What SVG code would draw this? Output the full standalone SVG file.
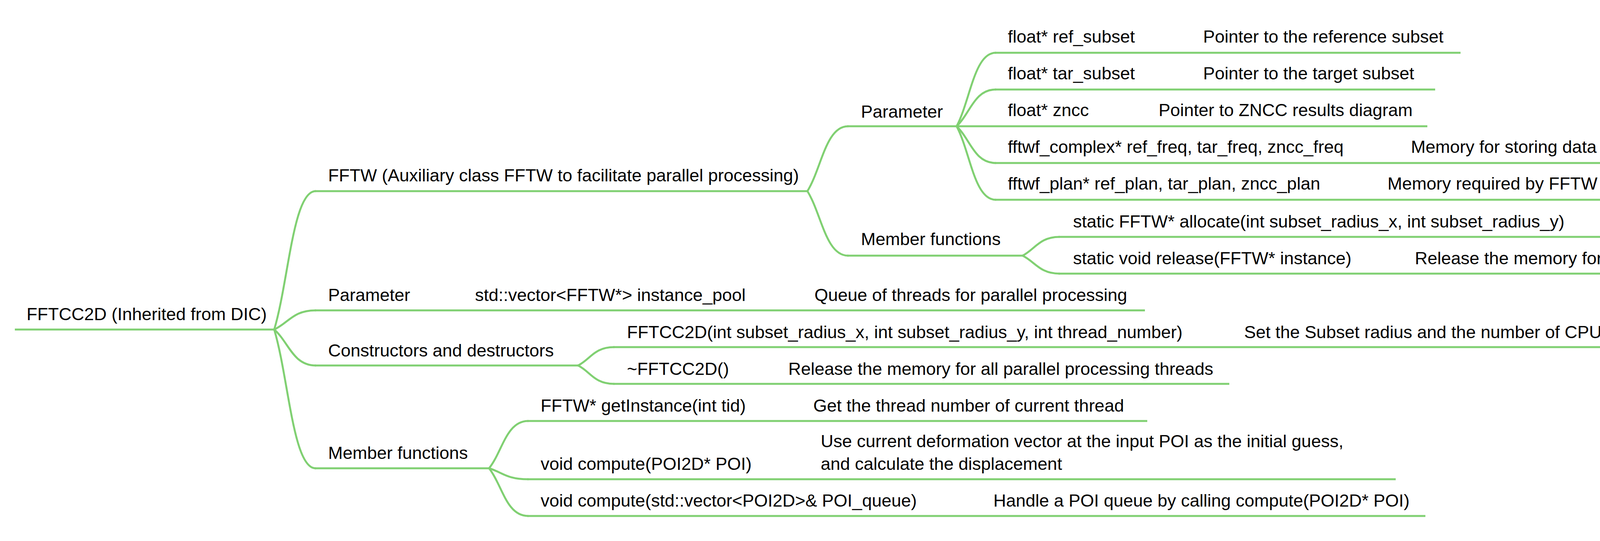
<svg xmlns="http://www.w3.org/2000/svg" width="4996" height="1384" viewBox="0 0 4996 1384">
<style>
text{font-family:"Liberation Sans",Arial,sans-serif;font-size:45px;fill:#000}
.u{stroke:#80D072;stroke-width:5;fill:none;stroke-linecap:butt}
.c{stroke:#80D072;stroke-width:5;fill:none;stroke-linecap:round}
</style>
<rect width="4996" height="1384" fill="#fff"/>
<g id="connectors">
<path class="c" d="M702 843 C739 719 750 489 808 489"/>
<path class="c" d="M702 843 C739 826 750 794 808 794"/>
<path class="c" d="M702 843 C739 875 750 935 808 935"/>
<path class="c" d="M702 843 C739 967 750 1198 808 1198"/>
<path class="c" d="M2067 489 C2103 431 2114 323 2171 323"/>
<path class="c" d="M2067 489 C2103 547 2114 654 2171 654"/>
<path class="c" d="M2449 323 C2484 257 2494 135 2549 135"/>
<path class="c" d="M2449 323 C2484 290 2494 229 2549 229"/>
<path class="c" d="M2449 323 C2484 356 2494 417 2549 417"/>
<path class="c" d="M2449 323 C2484 389 2494 511 2549 511"/>
<path class="c" d="M2618 654 C2650 637 2662 606 2712 606"/>
<path class="c" d="M2618 654 C2650 670 2662 700 2712 700"/>
<path class="c" d="M1480 935 C1512 919 1521 888 1572 888"/>
<path class="c" d="M1480 935 C1512 951 1521 982 1572 982"/>
<path class="c" d="M1252 1198 C1286 1156 1296 1077 1352 1077"/>
<path class="c" d="M1252 1198 C1286 1208 1296 1226 1352 1226"/>
<path class="c" d="M1252 1198 C1286 1241 1296 1320 1352 1320"/>
</g>
<g id="root"><line class="u" x1="38" y1="843" x2="704" y2="843"/><text x="68" y="819">FFTCC2D (Inherited from DIC)</text></g>
<g id="fftw"><line class="u" x1="806" y1="489" x2="2069" y2="489"/><text x="840" y="464">FFTW (Auxiliary class FFTW to facilitate parallel processing)</text></g>
<g id="fftw-param"><line class="u" x1="2169" y1="323" x2="2451" y2="323"/><text x="2204" y="301">Parameter</text></g>
<g id="ref-subset"><line class="u" x1="2547" y1="135" x2="3045" y2="135"/><text x="2580" y="109">float* ref_subset</text></g>
<g id="ref-subset-desc"><line class="u" x1="3045" y1="135" x2="3739" y2="135"/><text x="3080" y="109">Pointer to the reference subset</text></g>
<g id="tar-subset"><line class="u" x1="2547" y1="229" x2="3045" y2="229"/><text x="2580" y="203">float* tar_subset</text></g>
<g id="tar-subset-desc"><line class="u" x1="3045" y1="229" x2="3674" y2="229"/><text x="3080" y="203">Pointer to the target subset</text></g>
<g id="zncc"><line class="u" x1="2449" y1="323" x2="2930" y2="323"/><text x="2580" y="297">float* zncc</text></g>
<g id="zncc-desc"><line class="u" x1="2930" y1="323" x2="3654" y2="323"/><text x="2966" y="297">Pointer to ZNCC results diagram</text></g>
<g id="freq"><line class="u" x1="2547" y1="417" x2="3577" y2="417"/><text x="2580" y="391">fftwf_complex* ref_freq, tar_freq, zncc_freq</text></g>
<g id="freq-desc"><line class="u" x1="3577" y1="417" x2="4962" y2="417"/><text x="3612" y="391">Memory for storing data after transforming to frequency domain</text></g>
<g id="plan"><line class="u" x1="2547" y1="511" x2="3517" y2="511"/><text x="2580" y="485">fftwf_plan* ref_plan, tar_plan, zncc_plan</text></g>
<g id="plan-desc"><line class="u" x1="3517" y1="511" x2="4695" y2="511"/><text x="3552" y="485">Memory required by FFTW library for Fourier transform</text></g>
<g id="fftw-member"><line class="u" x1="2169" y1="654" x2="2620" y2="654"/><text x="2204" y="627">Member functions</text></g>
<g id="allocate"><line class="u" x1="2710" y1="606" x2="4129" y2="606"/><text x="2747" y="582">static FFTW* allocate(int subset_radius_x, int subset_radius_y)</text></g>
<g id="allocate-desc"><line class="u" x1="4129" y1="606" x2="4915" y2="606"/><text x="4164" y="582">Allocate memory for FFTW instance</text></g>
<g id="release"><line class="u" x1="2710" y1="700" x2="3587" y2="700"/><text x="2747" y="676">static void release(FFTW* instance)</text></g>
<g id="release-desc"><line class="u" x1="3587" y1="700" x2="4521" y2="700"/><text x="3622" y="676">Release the memory for the FFTW instance</text></g>
<g id="param"><line class="u" x1="806" y1="794" x2="1180" y2="794"/><text x="840" y="770">Parameter</text></g>
<g id="pool"><line class="u" x1="1180" y1="794" x2="2050" y2="794"/><text x="1216" y="770">std::vector&lt;FFTW*&gt; instance_pool</text></g>
<g id="pool-desc"><line class="u" x1="2050" y1="794" x2="2931" y2="794"/><text x="2085" y="770">Queue of threads for parallel processing</text></g>
<g id="ctors"><line class="u" x1="806" y1="935" x2="1482" y2="935"/><text x="840" y="912">Constructors and destructors</text></g>
<g id="ctor"><line class="u" x1="1570" y1="888" x2="3150" y2="888"/><text x="1605" y="865">FFTCC2D(int subset_radius_x, int subset_radius_y, int thread_number)</text></g>
<g id="ctor-desc"><line class="u" x1="3150" y1="888" x2="4308" y2="888"/><text x="3185" y="865">Set the Subset radius and the number of CPU threads</text></g>
<g id="dtor"><line class="u" x1="1570" y1="982" x2="1983" y2="982"/><text x="1605" y="959">~FFTCC2D()</text></g>
<g id="dtor-desc"><line class="u" x1="1983" y1="982" x2="3147" y2="982"/><text x="2018" y="959">Release the memory for all parallel processing threads</text></g>
<g id="member"><line class="u" x1="806" y1="1198" x2="1254" y2="1198"/><text x="840" y="1174">Member functions</text></g>
<g id="getinstance"><line class="u" x1="1350" y1="1077" x2="2047" y2="1077"/><text x="1384" y="1053">FFTW* getInstance(int tid)</text></g>
<g id="getinstance-desc"><line class="u" x1="2047" y1="1077" x2="2937" y2="1077"/><text x="2082" y="1053">Get the thread number of current thread</text></g>
<g id="compute"><line class="u" x1="1350" y1="1226" x2="2066" y2="1226"/><text x="1384" y="1202">void compute(POI2D* POI)</text></g>
<g id="compute-desc"><line class="u" x1="2066" y1="1226" x2="3573" y2="1226"/><text x="2101" y="1144">Use current deformation vector at the input POI as the initial guess,</text><text x="2101" y="1202">and calculate the displacement</text></g>
<g id="compute-queue"><line class="u" x1="1350" y1="1320" x2="2508" y2="1320"/><text x="1384" y="1296">void compute(std::vector&lt;POI2D&gt;&amp; POI_queue)</text></g>
<g id="compute-queue-desc"><line class="u" x1="2508" y1="1320" x2="3649" y2="1320"/><text x="2543" y="1296">Handle a POI queue by calling compute(POI2D* POI)</text></g>
</svg>
